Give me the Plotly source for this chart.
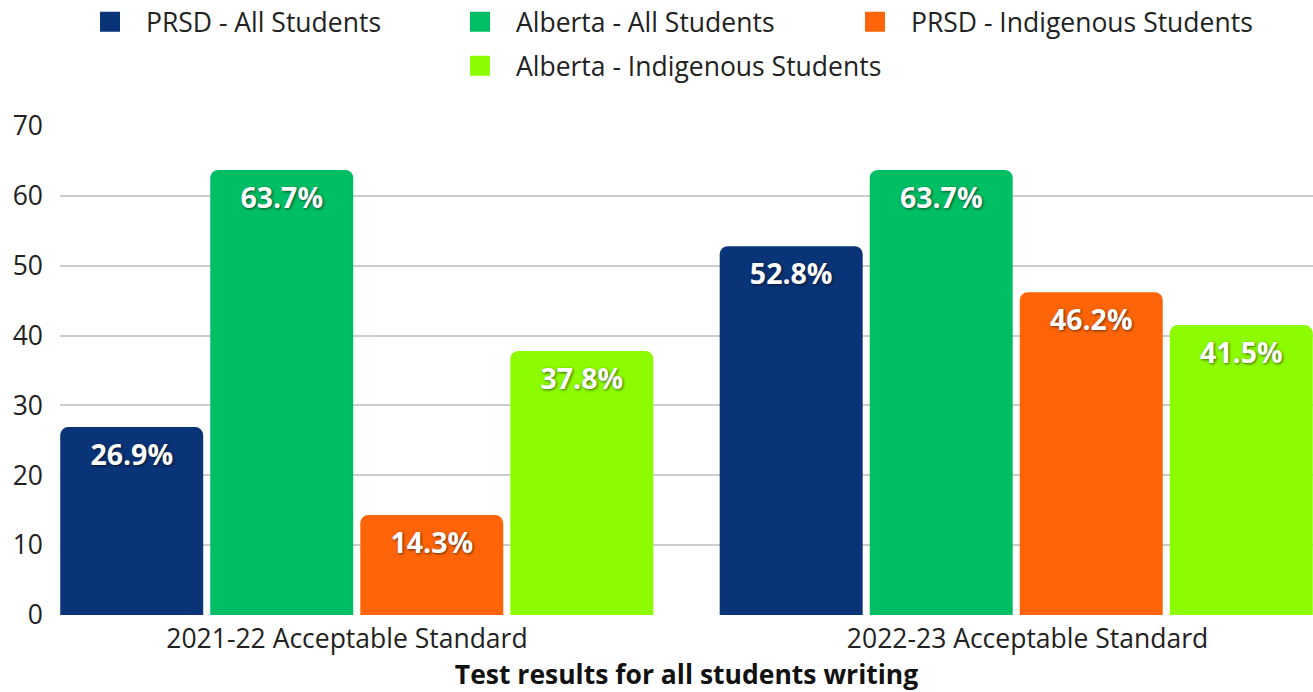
import plotly.graph_objects as go

categories = ["2021-22 Acceptable Standard", "2022-23 Acceptable Standard"]
series_names = ["PRSD - All Students", "Alberta - All Students",
                "PRSD - Indigenous Students", "Alberta - Indigenous Students"]
prsd_all = [26.9, 52.8]
alberta_all = [63.7, 63.7]
prsd_indig = [14.3, 46.2]
alberta_indig = [37.8, 41.5]
colors = ["#0a3478", "#00be64", "#ff6508", "#8efc00"]
values = [prsd_all, alberta_all, prsd_indig, alberta_indig]

FONT = "Open Sans"
FS = 26.5
fig = go.Figure()
legend_ids = ["legend", "legend2", "legend3", "legend4"]
for name, vals, col in zip(series_names, values, colors):
    fig.add_trace(go.Bar(
        name=name, x=categories, y=vals, marker_color=col,
        marker_line_width=0, showlegend=False,
        text=[f"{v:.1f}%" for v in vals],
        textposition="inside", insidetextanchor="end", textangle=0,
        textfont=dict(family=FONT, size=28.5, color="white", weight="bold",
                      shadow="1px 1px 3px rgba(0,0,0,0.6)"),
    ))
# legend entries (square swatches), placed on the label axis
for name, col, lg in zip(series_names, colors, legend_ids):
    fig.add_trace(go.Scatter(
        name=name, x=[0], y=[None], mode="markers", xaxis="x2",
        marker=dict(symbol="square", size=16, color=col,
                    line=dict(color=col, width=4)),
        legend=lg, showlegend=True, hoverinfo="skip",
    ))

W, H = 1313, 692
L, R, T, B = 60, 0, 126, 77

leg_common = dict(orientation="h", font=dict(family=FONT, size=FS, color="#222"),
                  bgcolor="rgba(0,0,0,0)", xanchor="left", yanchor="middle",
                  xref="container", yref="container",
                  itemwidth=62, tracegroupgap=0, borderwidth=0)
legend_pos = [(100, 22), (470, 22), (865, 22), (470, 66)]
layout_legends = {}
for lg, (lx, ly) in zip(legend_ids, legend_pos):
    layout_legends[lg] = dict(leg_common, x=(lx - 26) / W, y=1 - ly / H)

fig.update_layout(
    width=W, height=H,
    margin=dict(l=L, r=R, t=T, b=B, pad=0, autoexpand=False),
    paper_bgcolor="white", plot_bgcolor="white",
    barmode="group", bargap=0.09, bargroupgap=0.047, barcornerradius=8,
    font=dict(family=FONT, size=FS, color="#222"),
    showlegend=True,
    **layout_legends,
)
fig.update_yaxes(range=[0, 70], dtick=10, showgrid=True, gridcolor="#cccccc",
                 gridwidth=2, zeroline=False, showline=False, ticks="",
                 automargin=False,
                 tickfont=dict(family=FONT, size=FS, color="#222"),
                 ticklabelstandoff=16)
fig.update_layout(
    xaxis=dict(range=[-0.45, 1.45], showgrid=False, showline=False, ticks="",
               automargin=False, showticklabels=False),
    xaxis2=dict(overlaying="x", side="bottom", anchor="y",
                range=[-0.4217, 1.4195], tickmode="array", tickvals=[0, 1],
                ticktext=categories, showgrid=False, showline=False,
                zeroline=False, ticks="", automargin=False,
                ticklabelstandoff=5,
                tickfont=dict(family=FONT, size=FS, color="#222"),
                title=dict(text="<b>Test results for all students writing</b>",
                           font=dict(family=FONT, size=FS, color="#111"),
                           standoff=10)),
)

fig.write_html("out.html", config={"displayModeBar": False},
               post_script="document.body.style.margin='0';"
                           "document.body.style.overflow='hidden';")
